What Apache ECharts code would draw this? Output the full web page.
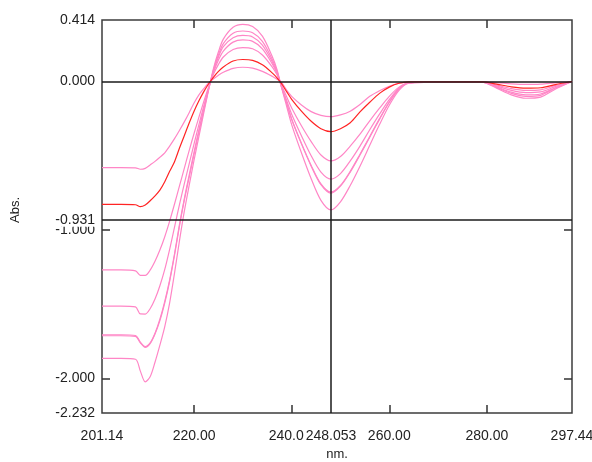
<!DOCTYPE html>
<html>
<head>
<meta charset="utf-8">
<script src="https://cdn.jsdelivr.net/npm/echarts@6/dist/echarts.min.js"></script>
<style>
  html, body { margin: 0; padding: 0; background: #fff; }
  #chart { width: 592px; height: 462px; }
</style>
</head>
<body>
<div id="chart"></div>
<script>
// wavelength samples (nm)
var wavelengths = [201.14, 205, 208, 209, 210, 211, 212, 213, 214, 215, 216, 217, 218, 219, 220, 221, 222, 223, 224, 225, 226, 228, 230, 232, 234, 236, 237, 238, 239, 240, 242, 244, 246, 248.05, 250, 252, 254, 256, 258, 260, 262, 264, 268, 272, 276, 279, 282, 285, 288, 291, 294, 297.44]

// absorbance spectra
var spec1 = [-0.580, -0.580, -0.581, -0.591, -0.585, -0.562, -0.538, -0.510, -0.480, -0.435, -0.385, -0.330, -0.272, -0.210, -0.145, -0.090, -0.048, -0.010, 0.018, 0.042, 0.062, 0.088, 0.096, 0.090, 0.068, 0.035, 0.015, -0.010, -0.060, -0.100, -0.158, -0.203, -0.228, -0.237, -0.225, -0.200, -0.155, -0.100, -0.062, -0.032, -0.012, -0.002, -0.001, -0.001, -0.002, -0.002, -0.008, -0.016, -0.020, -0.018, -0.009, 0]
var spec2 = [-0.828, -0.828, -0.830, -0.843, -0.832, -0.803, -0.770, -0.731, -0.675, -0.605, -0.540, -0.450, -0.365, -0.280, -0.200, -0.130, -0.068, -0.015, 0.030, 0.068, 0.098, 0.138, 0.148, 0.142, 0.112, 0.058, 0.025, -0.018, -0.070, -0.120, -0.200, -0.268, -0.318, -0.338, -0.318, -0.278, -0.205, -0.140, -0.080, -0.038, -0.012, -0.003, -0.002, -0.002, -0.003, -0.003, -0.018, -0.036, -0.045, -0.042, -0.021, 0]
var spec3 = [-1.269, -1.269, -1.275, -1.305, -1.305, -1.270, -1.210, -1.135, -1.045, -0.940, -0.825, -0.705, -0.585, -0.465, -0.350, -0.240, -0.135, -0.035, 0.050, 0.115, 0.165, 0.215, 0.228, 0.220, 0.178, 0.098, 0.045, -0.030, -0.105, -0.178, -0.298, -0.405, -0.495, -0.535, -0.505, -0.435, -0.355, -0.265, -0.180, -0.100, -0.038, -0.007, -0.003, -0.003, -0.004, -0.003, -0.024, -0.048, -0.060, -0.056, -0.028, 0]
var spec4 = [-1.512, -1.512, -1.518, -1.565, -1.566, -1.530, -1.465, -1.375, -1.265, -1.130, -0.980, -0.830, -0.690, -0.555, -0.420, -0.290, -0.165, -0.043, 0.062, 0.145, 0.205, 0.265, 0.280, 0.270, 0.220, 0.120, 0.055, -0.040, -0.130, -0.220, -0.365, -0.500, -0.610, -0.657, -0.620, -0.535, -0.435, -0.325, -0.220, -0.122, -0.045, -0.008, -0.004, -0.003, -0.004, -0.003, -0.030, -0.060, -0.075, -0.070, -0.035, 0]
var spec5 = [-1.705, -1.705, -1.710, -1.755, -1.785, -1.760, -1.695, -1.600, -1.480, -1.335, -1.160, -0.965, -0.790, -0.630, -0.475, -0.325, -0.185, -0.048, 0.072, 0.165, 0.235, 0.295, 0.310, 0.300, 0.245, 0.135, 0.062, -0.045, -0.148, -0.252, -0.415, -0.565, -0.690, -0.745, -0.700, -0.605, -0.490, -0.370, -0.250, -0.138, -0.050, -0.010, -0.004, -0.003, -0.005, -0.004, -0.036, -0.072, -0.090, -0.084, -0.042, 0]
var spec6 = [-1.712, -1.712, -1.716, -1.760, -1.790, -1.765, -1.700, -1.610, -1.490, -1.345, -1.170, -0.975, -0.800, -0.645, -0.490, -0.340, -0.195, -0.050, 0.080, 0.180, 0.255, 0.325, 0.340, 0.328, 0.270, 0.150, 0.070, -0.045, -0.150, -0.255, -0.420, -0.570, -0.695, -0.752, -0.705, -0.610, -0.495, -0.375, -0.255, -0.140, -0.052, -0.010, -0.005, -0.004, -0.005, -0.004, -0.040, -0.080, -0.100, -0.093, -0.046, 0]
var spec7 = [-1.864, -1.864, -1.870, -1.950, -2.022, -1.988, -1.890, -1.775, -1.650, -1.490, -1.290, -1.075, -0.875, -0.700, -0.530, -0.370, -0.210, -0.055, 0.090, 0.200, 0.285, 0.365, 0.385, 0.370, 0.305, 0.170, 0.080, -0.050, -0.170, -0.290, -0.480, -0.655, -0.800, -0.865, -0.810, -0.700, -0.570, -0.430, -0.290, -0.160, -0.060, -0.012, -0.005, -0.004, -0.006, -0.004, -0.045, -0.090, -0.113, -0.105, -0.052, 0]

// axis labels / ticks
var xLabelValues = [201.14, 220, 240, 248.053, 260, 280, 297.44]
var xLabelTexts = ['201.14', '220.00', '{cut|240.0}', '248.053', '260.00', '280.00', '297.44']
var xTickValues = [220, 240, 260, 280]
var yLabelValues = [0.414, 0, -1, -2, -2.232, -0.931]
var yLabelTexts = ['0.414', '0.000', '-1.000', '-2.000', '-2.232', '-0.931']
var yTickValues = [-1, -2]
var cursorX = 248.053
var cursorY = -0.931

var pink = '#ff86c6'
var red = '#ff2424'
var font = 'Liberation Sans, Arial, sans-serif'

function pairs(ys) {
  return wavelengths.map(function(x, i) { return [x, ys[i]] })
}

function lookup(values, texts) {
  return function(v) {
    for (var i = 0; i < values.length; i++) {
      if (Math.abs(values[i] - v) < 1e-6) return texts[i]
    }
    return ''
  }
}

function curve(name, ys, color) {
  return {
    name: name,
    type: 'line',
    data: pairs(ys),
    symbol: 'none',
    smooth: 0.3,
    z: 3,
    lineStyle: { color: color, width: 1.2 }
  }
}

var chart = echarts.init(document.getElementById('chart'))

var tickStyle = { show: true, inside: true, length: 8, lineStyle: { color: '#333', width: 1.5 } }
var noLine = { show: false, onZero: false }

var option = {
  animation: false,
  grid: {
    left: 102, right: 20, top: 20, bottom: 49,
    outerBoundsMode: 'none', containLabel: false,
    show: true, borderColor: '#3c3c3c', borderWidth: 1.5
  },
  xAxis: [
    {
      type: 'value', position: 'bottom', min: 201.14, max: 297.44,
      name: 'nm.', nameLocation: 'middle', nameGap: 34,
      nameTextStyle: { color: '#222', fontSize: 13, fontFamily: font },
      axisLine: noLine,
      axisTick: Object.assign({ customValues: xTickValues }, tickStyle),
      splitLine: { show: false },
      axisLabel: {
        customValues: xLabelValues,
        formatter: lookup(xLabelValues, xLabelTexts),
        color: '#222', fontSize: 14, fontFamily: font, margin: 16,
        rich: { cut: { color: '#222', fontSize: 14, fontFamily: font, padding: [0, 11, 0, 0] } }
      }
    },
    {
      type: 'value', position: 'top', min: 201.14, max: 297.44,
      axisLine: noLine,
      axisTick: Object.assign({ customValues: xTickValues }, tickStyle),
      splitLine: { show: false },
      axisLabel: { show: false }
    }
  ],
  yAxis: [
    {
      type: 'value', position: 'left', min: -2.232, max: 0.414,
      axisLine: noLine,
      axisTick: Object.assign({ customValues: yTickValues }, tickStyle),
      splitLine: { show: false },
      axisLabel: {
        customValues: yLabelValues,
        formatter: lookup(yLabelValues, yLabelTexts),
        color: '#222', fontSize: 14, fontFamily: font, margin: 6,
        backgroundColor: '#fff', padding: [0, 1]
      }
    },
    {
      type: 'value', position: 'right', min: -2.232, max: 0.414,
      axisLine: noLine,
      axisTick: Object.assign({ customValues: yTickValues }, tickStyle),
      splitLine: { show: false },
      axisLabel: { show: false }
    }
  ],
  graphic: [
    {
      type: 'text', x: 15, y: 210, rotation: Math.PI / 2,
      style: { text: 'Abs.', fill: '#222', font: '13px ' + font, textAlign: 'center', textVerticalAlign: 'middle' }
    }
  ],
  series: [
    {
      type: 'line', data: [], z: 2,
      markLine: {
        silent: true, symbol: ['none', 'none'],
        label: { show: false },
        lineStyle: { color: '#1a1a1a', width: 1.5, type: 'solid' },
        data: [{ yAxis: 0 }, { yAxis: cursorY }, { xAxis: cursorX }]
      }
    },
    curve('s1', spec1, pink),
    curve('s3', spec3, pink),
    curve('s4', spec4, pink),
    curve('s5', spec5, pink),
    curve('s6', spec6, pink),
    curve('s7', spec7, pink),
    curve('s2', spec2, red)
  ]
}

chart.setOption(option)
</script>
</body>
</html>
